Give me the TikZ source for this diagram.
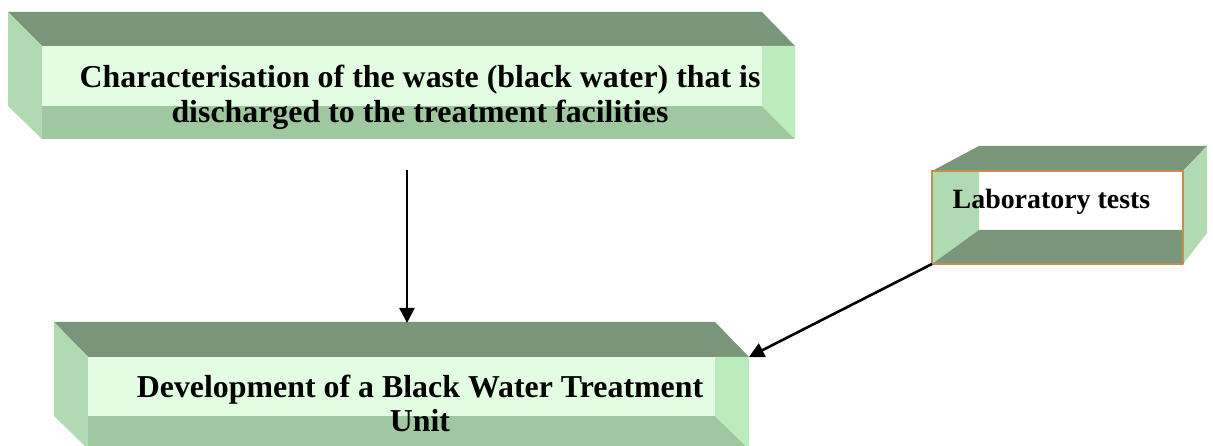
\documentclass[tikz,border=0pt]{standalone}
\usepackage{fontspec}
\setmainfont{Liberation Serif}
\usetikzlibrary{arrows.meta}

\definecolor{facetop}{RGB}{122,150,122}
\definecolor{facefront}{RGB}{226,253,226}
\definecolor{faceleft}{RGB}{176,218,176}
\definecolor{facebottom}{RGB}{160,200,160}
\definecolor{faceright}{RGB}{188,236,190}
\definecolor{labrim}{RGB}{192,144,80}

\begin{document}
\begin{tikzpicture}[>={Triangle[length=15bp,width=15bp]},line join=bevel,x=1bp,y=1bp,
  boxtext/.style={font=\bfseries\fontsize{32}{35}\selectfont,align=center,inner sep=0pt},
  top/.style={fill=facetop},front/.style={fill=facefront},left/.style={fill=faceleft},
  bottom/.style={fill=facebottom},right/.style={fill=faceright}]
\pgfsetlinewidth{2.6bp}
\pgfsetcolor{black}
\useasboundingbox (0bp,0bp) rectangle (1213bp,446bp);

% Node: char
\begin{scope}
  \fill[top] (8bp,434bp) -- (762bp,434bp) -- (795bp,400bp) -- (42bp,400bp) -- cycle;
  \fill[left] (8bp,434bp) -- (42bp,400bp) -- (42bp,307bp) -- (8bp,340bp) -- cycle;
  \fill[bottom] (42bp,340bp) -- (762bp,340bp) -- (795bp,307bp) -- (42bp,307bp) -- cycle;
  \fill[right] (762bp,400bp) -- (795bp,400bp) -- (795bp,307bp) -- (762bp,340bp) -- cycle;
  \fill[front] (42bp,400bp) rectangle (762bp,340bp);
  \node[boxtext] (char) at (420bp,349bp) {Characterisation of the waste (black water) that is\\discharged to the treatment facilities};
  \coordinate (char-out) at (407bp,276bp);
\end{scope}

% Node: dev
\begin{scope}
  \fill[top] (54bp,124bp) -- (715bp,124bp) -- (749bp,89bp) -- (88bp,89bp) -- cycle;
  \fill[left] (54bp,124bp) -- (88bp,89bp) -- (88bp,-3bp) -- (54bp,30bp) -- cycle;
  \fill[bottom] (88bp,30bp) -- (715bp,30bp) -- (749bp,-3bp) -- (88bp,-3bp) -- cycle;
  \fill[right] (715bp,89bp) -- (749bp,89bp) -- (749bp,-3bp) -- (715bp,30bp) -- cycle;
  \fill[front] (88bp,89bp) rectangle (715bp,30bp);
  \node[boxtext,font=\bfseries\fontsize{32}{34}\selectfont] (dev) at (420bp,43bp) {Development of a Black Water Treatment\\Unit};
  \coordinate (dev-in) at (407bp,123bp);
  \coordinate (dev-ne) at (749bp,89bp);
\end{scope}

% Node: lab
\begin{scope}
  \fill[top] (932bp,275bp) -- (979bp,300bp) -- (1207bp,300bp) -- (1183bp,275bp) -- cycle;
  \fill[left] (1183bp,275bp) -- (1207bp,300bp) -- (1207bp,213bp) -- (1183bp,182bp) -- cycle;
  \fill[white] (932bp,182bp) rectangle (1183bp,275bp);
  \fill[left] (932bp,275bp) -- (979bp,275bp) -- (979bp,216bp) -- (932bp,182bp) -- cycle;
  \fill[top] (932bp,182bp) -- (979bp,216bp) -- (1183bp,216bp) -- (1183bp,182bp) -- cycle;
  \draw[labrim,line width=1.5bp] (932bp,182bp) rectangle (1183bp,275bp);
  \node[boxtext,font=\bfseries\fontsize{28}{34}\selectfont,anchor=base] (lab) at (1051.5bp,237bp) {Laboratory tests};
  \coordinate (lab-sw) at (932bp,182bp);
\end{scope}

% Edge: char -> dev
\draw [->] (char-out) -- (dev-in);

% Edge: lab -> dev
\draw [->] (lab-sw) -- (dev-ne);

\end{tikzpicture}
\end{document}
